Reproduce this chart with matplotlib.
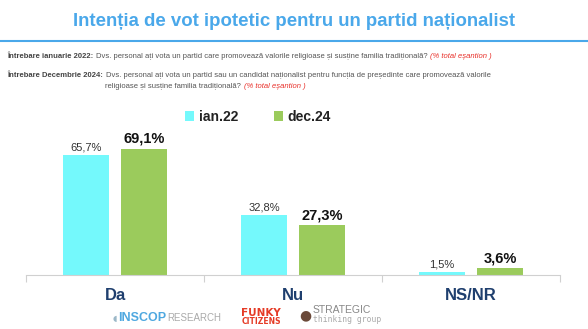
import matplotlib
matplotlib.use("Agg")
import matplotlib.pyplot as plt
import numpy as np
from matplotlib.offsetbox import TextArea, HPacker, AnchoredOffsetbox

categories = ["Da", "Nu", "NS/NR"]
series_names = ["ian.22", "dec.24"]
ian22 = [65.7, 32.8, 1.5]
dec24 = [69.1, 27.3, 3.6]
labels_ian = ["65,7%", "32,8%", "1,5%"]
labels_dec = ["69,1%", "27,3%", "3,6%"]

W, H = 588, 329
fig = plt.figure(figsize=(W / 100, H / 100), dpi=100)
fig.patch.set_facecolor("white")

def fx(px):
    return px / W

def fy(py):
    return 1 - py / H

cyan = "#74F9FC"
green = "#9BCB5C"
title_blue = "#4AA8EA"
dark_blue = "#1F3F6E"
fam = "Liberation Sans"

# Title and rule
fig.text(0.5, fy(22), "Intenția de vot ipotetic pentru un partid naționalist",
         ha="center", va="center", fontsize=13.4, fontweight="bold", color=title_blue,
         family=fam)
fig.add_artist(plt.Line2D([0, 1], [fy(41), fy(41)], color=title_blue, lw=1.5,
                          transform=fig.transFigure))

# Question texts
qfs = 5.5

def packed(x, y, parts, size=qfs, sep=2):
    boxes = [TextArea(txt, textprops=dict(fontsize=kw.pop("fontsize", size),
                                          family=kw.pop("family", fam), **kw))
             for txt, kw in parts]
    hp = HPacker(children=boxes, align="baseline", pad=0, sep=sep)
    ab = AnchoredOffsetbox(loc="center left", child=hp, pad=0, frameon=False,
                           bbox_to_anchor=(fx(x), fy(y)), bbox_transform=fig.transFigure,
                           borderpad=0)
    fig.add_artist(ab)

gray = "#555555"
red = "#E8302A"
packed(7, 56, [("Întrebare ianuarie 2022:", dict(fontweight="bold", color="#444444")),
               ("Dvs. personal ați vota un partid care promovează valorile religioase și susține familia tradițională?", dict(color=gray)),
               ("(% total eșantion )", dict(color=red, style="italic"))])
packed(7, 75, [("Întrebare Decembrie 2024:", dict(fontweight="bold", color="#444444")),
               ("Dvs. personal ați vota un partid sau un candidat naționalist pentru funcția de președinte care promovează valorile", dict(color=gray))])
packed(105, 87, [("religioase și susține familia tradițională?", dict(color=gray)),
                 ("(% total eșantion )", dict(color=red, style="italic"))])

# Axes
ax_left, ax_right = 26, 560
base_y = 275
ymax = 75
px_per_unit = 1.83
ax_top = base_y - ymax * px_per_unit
ax = fig.add_axes([fx(ax_left), fy(base_y), fx(ax_right - ax_left), (base_y - ax_top) / H])
ax.set_xlim(-0.5, 2.5)
ax.set_ylim(0, ymax)

x = np.arange(len(categories))
bw = 0.26
off = 0.163
ax.bar(x - off, ian22, bw, color=cyan, label=series_names[0])
ax.bar(x + off, dec24, bw, color=green, label=series_names[1])

for i in range(len(categories)):
    ax.text(x[i] - off, ian22[i] + 1.5, labels_ian[i], ha="center", va="bottom",
            fontsize=8, color="#333333", family=fam)
    ax.text(x[i] + off, dec24[i] + 1.5, labels_dec[i], ha="center", va="bottom",
            fontsize=10.5, fontweight="bold", color="#111111", family=fam)

for s in ["top", "right", "left"]:
    ax.spines[s].set_visible(False)
ax.spines["bottom"].set_color("#D0D0D0")
ax.spines["bottom"].set_linewidth(0.8)
ax.set_yticks([])
ax.set_xticks(x)
ax.set_xticklabels(categories, fontsize=12, fontweight="bold", color=dark_blue, family=fam)
ax.tick_params(axis="x", which="major", length=0, pad=9)
ax.set_xticks([-0.5, 0.5, 1.5, 2.5], minor=True)
ax.tick_params(axis="x", which="minor", length=5, color="#D0D0D0", width=0.8)

# Legend
leg = fig.legend(handles=ax.containers, labels=series_names, loc="center",
                 bbox_to_anchor=(fx(258), fy(117)), ncol=2, frameon=False,
                 prop=dict(size=10, weight="bold", family=fam),
                 handlelength=0.65, handleheight=0.65, handletextpad=0.3, columnspacing=2.6)
for t in leg.get_texts():
    t.set_color("#222222")

# Logos as text
packed(113, 318, [("◖", dict(fontsize=6, color="#9BB8C8", family="DejaVu Sans")),
                  ("INSCOP", dict(fontsize=9, fontweight="bold", color="#4FA8E0")),
                  ("RESEARCH", dict(fontsize=7, color="#AAAAAA"))], sep=0.5)
fig.text(fx(261), fy(312.5), "FUNKY", fontsize=7.5, fontweight="bold", color="#E53B26",
         va="center", ha="center", family="DejaVu Sans Condensed")
fig.text(fx(261), fy(321.5), "CITIZENS", fontsize=5.5, fontweight="bold", color="#E53B26",
         va="center", ha="center", family="DejaVu Sans Condensed")
fig.text(fx(299), fy(315), "●", fontsize=10, color="#6B4A3A", va="center", ha="left")
fig.text(fx(313), fy(310), "STRATEGIC", fontsize=7.5, color="#888888", va="center", ha="left",
         family=fam)
fig.text(fx(313), fy(319), "thinking group", fontsize=5.8, color="#AAAAAA", va="center", ha="left",
         family="DejaVu Sans Mono")

fig.savefig("out.png", dpi=100)
